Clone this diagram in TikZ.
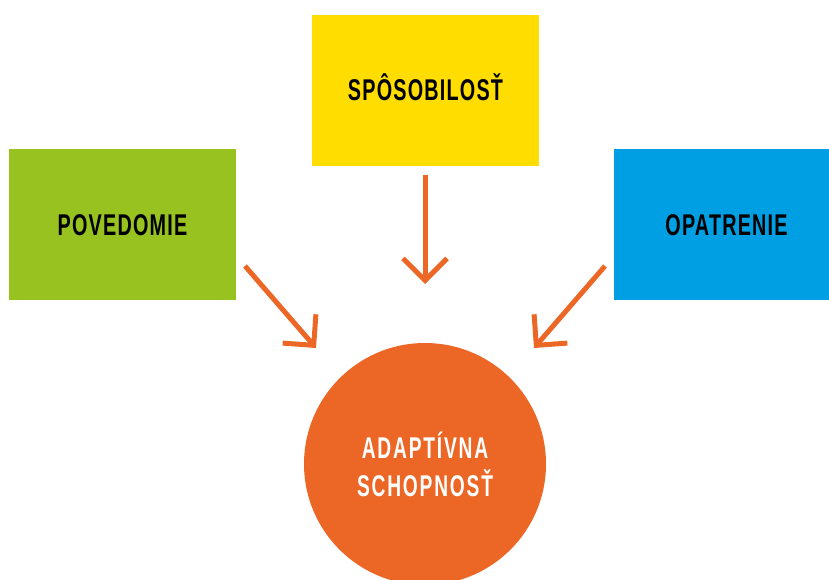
\documentclass[tikz,border=0pt]{standalone}
\usepackage{fontspec}
\setmainfont{Liberation Sans}
\newfontfamily\boxfont[FakeStretch=0.66,LetterSpace=4]{Liberation Sans}
\newfontfamily\roundfont[FakeStretch=0.64,LetterSpace=6]{Liberation Sans}
\usetikzlibrary{arrows.meta}
\definecolor{fyellow}{HTML}{FFDD00}
\definecolor{fgreen}{HTML}{97C21F}
\definecolor{fblue}{HTML}{009FE3}
\definecolor{forange}{HTML}{EC6726}
\begin{document}
\begin{tikzpicture}[x=1pt, y=-1pt,
	box/.style={fill=#1, text=black, shape=rectangle, inner sep=0pt, minimum height=151pt, font=\boxfont\bfseries\fontsize{30}{34}\selectfont, text height=21pt, text depth=0pt},
	flow/.style={draw=forange, line width=5pt, -{Straight Barb[length=22pt, width=44pt]}}]
	\useasboundingbox (0,0) rectangle (829,580);

	\node[box=fyellow, minimum width=227pt] (f_skill) at (425.5,90.5) {SPÔSOBILOSŤ};
	\node[box=fgreen, minimum width=227pt] (f_aware) at (122.5,224.5) {POVEDOMIE};
	\node[box=fblue, minimum width=215pt] (f_act) at (721.5,224.5) {};
	\node[text=black, font=\boxfont\bfseries\fontsize{30}{34}\selectfont, text height=21pt, text depth=0pt] (t_act) at (726.5,224.5) {OPATRENIE};

	\node[fill=forange, text=white, shape=circle, minimum size=242pt, inner sep=0pt, align=center, font=\roundfont\bfseries\fontsize{30}{38}\selectfont] (f_adapt) at (425,464) {ADAPTÍVNA\\SCHOPNOSŤ};

	\coordinate (a_top) at (425,175);
	\coordinate (a_left) at (245,266);
	\coordinate (a_right) at (605,266);
	\coordinate (e_top) at (425,284);
	\coordinate (e_left) at (316,348);
	\coordinate (e_right) at (534,348);

	\draw[flow] (a_top) -- (e_top);
	\draw[flow] (a_left) -- (e_left);
	\draw[flow] (a_right) -- (e_right);
\end{tikzpicture}
\end{document}
